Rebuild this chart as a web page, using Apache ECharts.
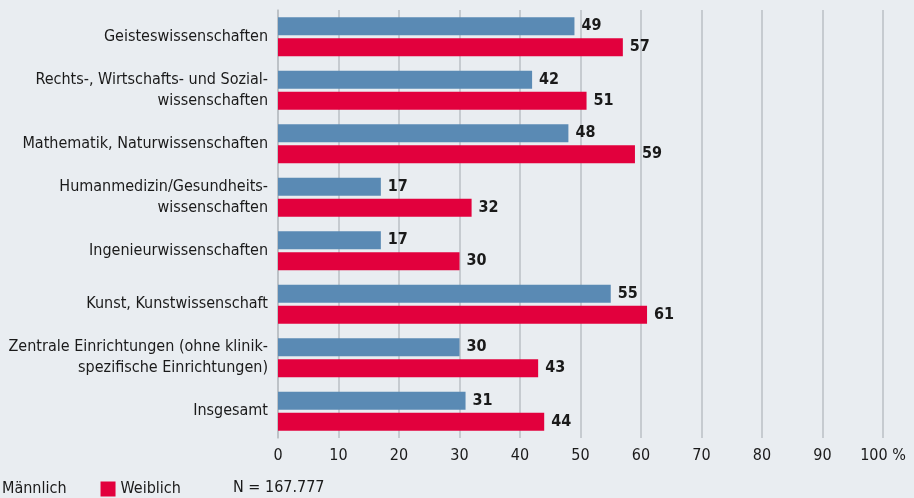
<!DOCTYPE html>
<html>
<head>
<meta charset="utf-8">
<script src="https://cdn.jsdelivr.net/npm/echarts@6/dist/echarts.min.js"></script>
<style>
  html, body { margin: 0; padding: 0; background: #e9edf1; }
  #chart { width: 914px; height: 498px; }
</style>
</head>
<body>
<div id="chart"></div>
<script>
var categories = [
  'Geisteswissenschaften',
  'Rechts-, Wirtschafts- und Sozial-\nwissenschaften',
  'Mathematik, Naturwissenschaften',
  'Humanmedizin/Gesundheits-\nwissenschaften',
  'Ingenieurwissenschaften',
  'Kunst, Kunstwissenschaft',
  'Zentrale Einrichtungen (ohne klinik-\nspezifische Einrichtungen)',
  'Insgesamt'
];
var maennlich = [49, 42, 48, 17, 17, 55, 30, 31];
var weiblich = [57, 51, 59, 32, 30, 61, 43, 44];
var xTicks = ['0', '10', '20', '30', '40', '50', '60', '70', '80', '90', '100 %'];

var font = '"Liberation Sans Narrow", "DejaVu Sans Condensed", sans-serif';

var chart = echarts.init(document.getElementById('chart'), null, { renderer: 'canvas' });

var option = {
  backgroundColor: '#e9edf1',
  animation: false,
  textStyle: { fontFamily: font },
  grid: { left: 278, right: 31, top: 10, bottom: 60 },
  legend: {
    left: -18,
    top: 481,
    padding: 0,
    itemWidth: 15,
    itemHeight: 15,
    itemGap: 34,
    icon: 'rect',
    textStyle: { fontSize: 16, color: '#1a1a1a', fontFamily: font },
    data: ['Männlich', 'Weiblich']
  },
  graphic: [{
    type: 'text',
    left: 233,
    top: 480,
    style: { text: 'N = 167.777', fontSize: 16, fill: '#1a1a1a', fontFamily: font }
  }],
  xAxis: {
    type: 'value',
    min: 0,
    max: 100,
    interval: 10,
    axisLine: { show: false },
    axisTick: { show: false },
    splitLine: { lineStyle: { color: '#babfc4', width: 1.5 } },
    axisLabel: {
      fontSize: 16,
      color: '#1a1a1a',
      margin: 10,
      formatter: function (v) { return xTicks[v / 10]; }
    }
  },
  yAxis: {
    type: 'category',
    inverse: true,
    data: categories,
    axisLine: { show: true, lineStyle: { color: '#babfc4', width: 1.5 } },
    axisTick: { show: false },
    axisLabel: {
      fontSize: 16,
      color: '#1a1a1a',
      margin: 10,
      lineHeight: 21,
      align: 'right'
    }
  },
  series: [
    {
      name: 'Männlich',
      type: 'bar',
      data: maennlich,
      barWidth: 18,
      barGap: '17%',
      itemStyle: { color: '#5a8ab4' },
      label: {
        show: true,
        position: 'right',
        distance: 7,
        fontSize: 16,
        fontWeight: 'bold',
        color: '#1a1a1a',
        fontFamily: font
      }
    },
    {
      name: 'Weiblich',
      type: 'bar',
      data: weiblich,
      barWidth: 18,
      itemStyle: { color: '#e2003d' },
      label: {
        show: true,
        position: 'right',
        distance: 7,
        fontSize: 16,
        fontWeight: 'bold',
        color: '#1a1a1a',
        fontFamily: font
      }
    }
  ]
};

chart.setOption(option);
</script>
</body>
</html>
